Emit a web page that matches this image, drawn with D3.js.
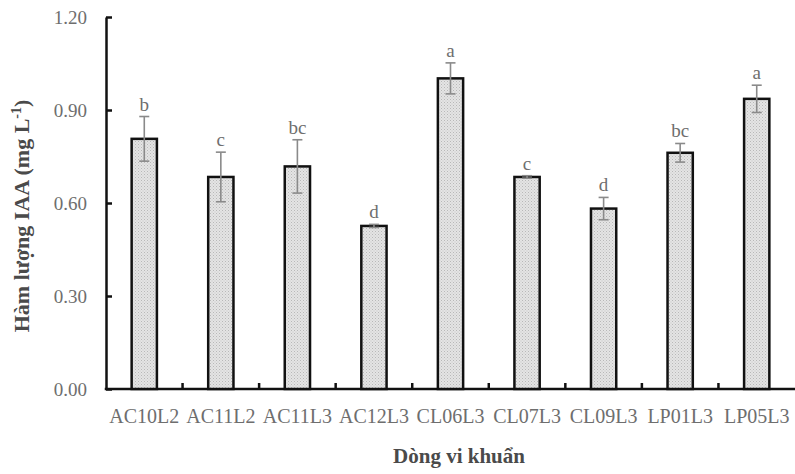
<!DOCTYPE html>
<html>
<head>
<meta charset="utf-8">
<script src="https://cdn.jsdelivr.net/npm/d3@7"></script>
<style>
  body { margin: 0; background: #fff; }
  text { font-family: "Liberation Serif", "Times New Roman", serif; }
</style>
</head>
<body>
<div id="chart"></div>
<script>
// data
const strains = ['AC10L2', 'AC11L2', 'AC11L3', 'AC12L3', 'CL06L3', 'CL07L3', 'CL09L3', 'LP01L3', 'LP05L3'];
const iaa = [0.807, 0.684, 0.718, 0.526, 1.002, 0.684, 0.582, 0.762, 0.936];
const iaa_err = [0.072, 0.080, 0.086, 0.005, 0.050, 0.004, 0.036, 0.030, 0.044];
const groups = ['b', 'c', 'bc', 'd', 'a', 'c', 'd', 'bc', 'a'];
const y_ticks = [0, 0.3, 0.6, 0.9, 1.2];

const chart_width = 795;
const chart_height = 474;
const plot_left = 106, plot_right = 795, plot_top = 17, plot_bottom = 389;

const svg = d3.select('#chart')
    .append('svg')
    .attr('width', chart_width)
    .attr('height', chart_height);

// dotted grey fill like the original
const defs = svg.append('defs');
const pat = defs.append('pattern')
    .attr('id', 'dots')
    .attr('width', 3)
    .attr('height', 3)
    .attr('patternUnits', 'userSpaceOnUse');
pat.append('rect').attr('width', 3).attr('height', 3).attr('fill', '#e4e4e4');
pat.append('rect').attr('width', 1).attr('height', 1).attr('fill', '#b8b8b8');
pat.append('rect').attr('x', 1.5).attr('y', 1.5).attr('width', 1).attr('height', 1).attr('fill', '#c4c4c4');

// scales
const x_scale = d3.scaleBand()
    .domain(strains)
    .range([plot_left, plot_right])
    .paddingInner(0.67)
    .paddingOuter(0.335);

const y_scale = d3.scaleLinear()
    .domain([0, 1.2])
    .range([plot_bottom, plot_top]);

// y axis
const yAxis = svg.append('g')
    .attr('transform', `translate(${plot_left},0)`)
    .call(d3.axisLeft(y_scale)
        .tickValues(y_ticks)
        .tickFormat(d3.format('.2f'))
        .tickSizeInner(-6)
        .tickSizeOuter(0)
        .tickPadding(19));
yAxis.select('.domain').attr('stroke', '#111').attr('stroke-width', 2.5);
yAxis.selectAll('.tick line').attr('stroke', '#111').attr('stroke-width', 2.5);
yAxis.selectAll('.tick text')
    .attr('font-size', 19)
    .attr('fill', '#6e6e6e')
    .attr('font-family', '"Liberation Serif", serif');

// x axis: baseline, separator ticks and labels
const step = x_scale.step();
svg.append('line')
    .attr('x1', plot_left - 1.25)
    .attr('x2', plot_right)
    .attr('y1', plot_bottom)
    .attr('y2', plot_bottom)
    .attr('stroke', '#111')
    .attr('stroke-width', 2.5);

svg.selectAll('.sep')
    .data(strains.slice(1))
    .enter()
    .append('line')
    .attr('class', 'sep')
    .attr('x1', d => x_scale(d) - (x_scale.paddingInner() * step) / 2)
    .attr('x2', d => x_scale(d) - (x_scale.paddingInner() * step) / 2)
    .attr('y1', plot_bottom)
    .attr('y2', plot_bottom - 6)
    .attr('stroke', '#111')
    .attr('stroke-width', 2.5);

svg.selectAll('.xlab')
    .data(strains)
    .enter()
    .append('text')
    .attr('class', 'xlab')
    .text(d => d)
    .attr('x', d => x_scale(d) + x_scale.bandwidth() / 2)
    .attr('y', 423)
    .attr('text-anchor', 'middle')
    .attr('font-size', 20)
    .attr('fill', '#6e6e6e');

// bars
svg.selectAll('.bar')
    .data(iaa)
    .enter()
    .append('rect')
    .attr('class', 'bar')
    .attr('x', (d, i) => x_scale(strains[i]))
    .attr('y', d => y_scale(d))
    .attr('width', x_scale.bandwidth())
    .attr('height', d => plot_bottom - y_scale(d))
    .attr('fill', 'url(#dots)')
    .attr('stroke', '#111')
    .attr('stroke-width', 2.5);

// error bars
const cap = 5;
const err = svg.selectAll('.err')
    .data(iaa)
    .enter()
    .append('g')
    .attr('class', 'err')
    .attr('stroke', '#8a8a8a')
    .attr('stroke-width', 1.6);
err.append('line')
    .attr('x1', (d, i) => x_scale(strains[i]) + x_scale.bandwidth() / 2)
    .attr('x2', (d, i) => x_scale(strains[i]) + x_scale.bandwidth() / 2)
    .attr('y1', (d, i) => y_scale(d + iaa_err[i]))
    .attr('y2', (d, i) => y_scale(d - iaa_err[i]));
err.append('line')
    .attr('x1', (d, i) => x_scale(strains[i]) + x_scale.bandwidth() / 2 - cap)
    .attr('x2', (d, i) => x_scale(strains[i]) + x_scale.bandwidth() / 2 + cap)
    .attr('y1', (d, i) => y_scale(d + iaa_err[i]))
    .attr('y2', (d, i) => y_scale(d + iaa_err[i]));
err.append('line')
    .attr('x1', (d, i) => x_scale(strains[i]) + x_scale.bandwidth() / 2 - cap)
    .attr('x2', (d, i) => x_scale(strains[i]) + x_scale.bandwidth() / 2 + cap)
    .attr('y1', (d, i) => y_scale(d - iaa_err[i]))
    .attr('y2', (d, i) => y_scale(d - iaa_err[i]));

// significance letters
svg.selectAll('.grp')
    .data(groups)
    .enter()
    .append('text')
    .attr('class', 'grp')
    .text(d => d)
    .attr('x', (d, i) => x_scale(strains[i]) + x_scale.bandwidth() / 2)
    .attr('y', (d, i) => y_scale(iaa[i] + iaa_err[i]) - 6)
    .attr('text-anchor', 'middle')
    .attr('font-size', 19)
    .attr('fill', '#6e6e6e');

// axis titles
svg.append('text')
    .text('Dòng vi khuẩn')
    .attr('x', 459)
    .attr('y', 463)
    .attr('text-anchor', 'middle')
    .attr('font-size', 21)
    .attr('font-weight', 'bold')
    .attr('fill', '#4a4a4a');

const ytitle = svg.append('text')
    .attr('transform', 'translate(29,216) rotate(-90)')
    .attr('text-anchor', 'middle')
    .attr('font-size', 22)
    .attr('font-weight', 'bold')
    .attr('fill', '#4a4a4a');
ytitle.append('tspan').text('Hàm lượng IAA (mg L');
ytitle.append('tspan').text('-1').attr('font-size', 14).attr('dy', -8);
ytitle.append('tspan').text(')').attr('dy', 8);
</script>
</body>
</html>
